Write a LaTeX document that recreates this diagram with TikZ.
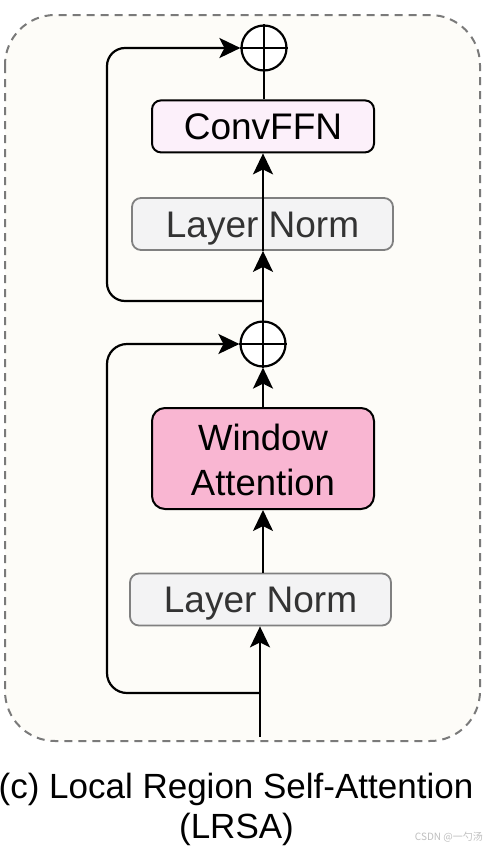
\documentclass[tikz,border=0pt]{standalone}
\usepackage{fontspec}
\setmainfont{Liberation Sans}
\newfontfamily\cjk{Noto Sans CJK SC}
\usetikzlibrary{arrows.meta}
\definecolor{cream}{HTML}{FDFCF8}
\definecolor{convfill}{HTML}{FCF0FA}
\definecolor{lnfill}{HTML}{F3F3F4}
\definecolor{lnborder}{HTML}{808080}
\definecolor{lntext}{HTML}{333333}
\definecolor{wafill}{HTML}{F9B6D2}
\definecolor{dashcol}{HTML}{7A7A7A}
\tikzset{
  arr/.style={line width=2.2pt, -{Stealth[length=21pt,width=20pt,inset=5pt]}},
  conn/.style={line width=2.2pt},
  boxbase/.style={rounded corners=9pt, inner sep=0pt, font=\fontsize{37}{44}\selectfont, text height=26pt, text depth=0pt},
  convbox/.style={boxbase, draw=black, line width=2pt, fill=convfill, minimum width=222pt, minimum height=52pt},
  lnbox/.style={boxbase, draw=lnborder, line width=1.8pt, fill=lnfill, text=lntext, minimum width=261pt, minimum height=52pt},
  wabox/.style={rounded corners=13pt, draw=black, line width=2pt, fill=wafill, minimum width=222pt, minimum height=101pt, inner sep=0pt},
  watext/.style={font=\fontsize{36.5}{44}\selectfont, anchor=base, inner sep=0pt},
  plus/.style={circle, draw=black, line width=2.2pt, minimum size=45pt, inner sep=0pt, fill=white},
  captext/.style={font=\fontsize{35}{42}\selectfont, anchor=base, inner sep=0pt},
}
\begin{document}
\begin{tikzpicture}[x=1pt,y=-1pt]
\useasboundingbox (0,0) rectangle (487,849);
\fill[white] (0,0) rectangle (487,849);
\draw[dashcol, line width=2pt, dash pattern=on 8pt off 6pt, fill=cream, rounded corners=50pt] (5,15) rectangle (480,741);

% nodes
\node[plus] (c1) at (264,48) {};
\draw[line width=2.2pt] (c1.north) -- (c1.south) (c1.west) -- (c1.east);
\node[convbox] (conv) at (263,126.4) {ConvFFN};
\node[lnbox] (ln2) at (262.5,224) {Layer Norm};
\node[plus] (c2) at (263,344) {};
\draw[line width=2.2pt] (c2.north) -- (c2.south) (c2.west) -- (c2.east);
\node[wabox] (wa) at (263,458.5) {};
\node[watext] (wat1) at (263,450) {Window};
\node[watext] (wat2) at (263,495) {Attention};
\node[lnbox] (ln1) at (260.5,599.5) {Layer Norm};

\coordinate (in) at (260,737);
\coordinate (s1) at (260,693);
\coordinate (s2) at (263,301);

% connectors
\draw[arr] (in) -- (ln1.south -| in);
\draw[arr] (ln1.north -| wa.south) -- (wa.south);
\draw[arr] (wa.north) -- (c2.south);
\draw[arr, rounded corners=20pt] (s1) -- (107,693) -- (107,344) -- (c2.west);
\draw[arr] (c2.north) -- (ln2.south -| c2.north);
\draw[arr] (ln2.south -| conv.south) -- (conv.south);
\draw[arr, rounded corners=18pt] (s2) -- (107,301) -- (107,48) -- (c1.west);
\draw[conn] (conv.north -| c1.south) -- (c1.south);

% caption
\node[captext] (cap1) at (236,798) {(c) Local Region Self-Attention};
\node[captext] (cap2) at (236.5,838) {(LRSA)};
\node[anchor=base east, inner sep=0pt, text=black!25, font=\cjk\fontsize{10}{12}\selectfont] (wm) at (483,840) {CSDN @一勺汤};
\end{tikzpicture}
\end{document}
